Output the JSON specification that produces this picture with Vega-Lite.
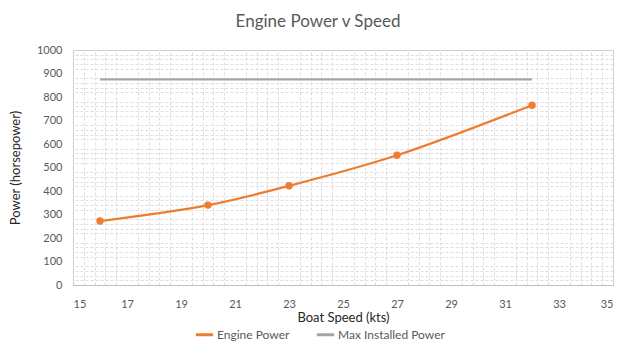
{
  "$schema": "https://vega.github.io/schema/vega-lite/v6.json",
  "width": 540,
  "height": 235,
  "autosize": {"type": "none"},
  "padding": {"left": 73, "top": 50, "right": 23, "bottom": 68},
  "background": "white",
  "title": {"text": "Engine Power v Speed", "fontSize": 17, "font": "Lato", "fontWeight": "normal", "color": "#595959", "anchor": "middle", "dx": -25, "offset": 13},
  "config": {
    "font": "Lato",
    "view": {"stroke": "#D0D0D0", "strokeWidth": 1},
    "axis": {"labelFont": "Lato", "titleFont": "Lato", "labelColor": "#595959", "titleColor": "#262626", "labelFontSize": 11, "titleFontWeight": "normal", "titleFontSize": 13}
  },
  "data": {"values": [
    {"speed": 16, "power": 272, "series": "Engine Power"},
    {"speed": 20, "power": 340, "series": "Engine Power"},
    {"speed": 23, "power": 422, "series": "Engine Power"},
    {"speed": 27, "power": 552, "series": "Engine Power"},
    {"speed": 32, "power": 765, "series": "Engine Power"},
    {"speed": 16, "power": 875, "series": "Max Installed Power"},
    {"speed": 32, "power": 875, "series": "Max Installed Power"}
  ]},
  "layer": [
    {
      "mark": {"type": "line", "interpolate": "catmull-rom", "strokeWidth": 2.2},
      "encoding": {
        "x": {"field": "speed", "type": "quantitative", "scale": {"domain": [15, 35], "nice": false, "zero": false},
          "axis": {"orient": "top", "values": [15.4,15.8,16.2,16.6,17.4,17.8,18.2,18.6,19.4,19.8,20.2,20.6,21.4,21.8,22.2,22.6,23.4,23.8,24.2,24.6,25.4,25.8,26.2,26.6,27.4,27.8,28.2,28.6,29.4,29.8,30.2,30.6,31.4,31.8,32.2,32.6,33.4,33.8,34.2,34.6], "labels": false, "ticks": false, "domain": false, "title": null, "grid": true, "gridColor": "#DEDEDE", "gridDash": [3, 2]}},
        "y": {"field": "power", "type": "quantitative", "scale": {"domain": [0, 1000], "nice": false},
          "axis": {"orient": "right", "values": [20,40,60,80,120,140,160,180,220,240,260,280,320,340,360,380,420,440,460,480,520,540,560,580,620,640,660,680,720,740,760,780,820,840,860,880,920,940,960,980], "labels": false, "ticks": false, "domain": false, "title": null, "grid": true, "gridColor": "#DEDEDE", "gridDash": [3, 2]}},
        "color": {"field": "series", "type": "nominal", "scale": {"domain": ["Engine Power", "Max Installed Power"], "range": ["#ED7D31", "#A5A5A5"]},
          "legend": {"title": null, "orient": "none", "direction": "horizontal", "legendX": 121, "legendY": 274, "symbolType": "stroke", "symbolStrokeWidth": 3, "symbolSize": 300, "labelFontSize": 12, "labelColor": "#595959", "columnPadding": 20, "labelOffset": 2}}
      }
    },
    {
      "transform": [{"filter": "datum.series == 'Engine Power'"}],
      "mark": {"type": "point", "filled": true, "size": 55, "opacity": 1, "color": "#ED7D31"},
      "encoding": {
        "x": {"field": "speed", "type": "quantitative",
          "axis": {"orient": "bottom", "values": [15,17,19,21,23,25,27,29,31,33,35], "title": "Boat Speed (kts)", "titlePadding": 2, "labelPadding": 13, "ticks": false, "domainColor": "#BFBFBF", "gridColor": "#C8C8C8", "labelFontSize": 11}},
        "y": {"field": "power", "type": "quantitative",
          "axis": {"orient": "left", "values": [0,100,200,300,400,500,600,700,800,900,1000], "format": "d", "title": "Power (horsepower)", "titlePadding": 14, "labelPadding": 11, "ticks": false, "domain": false, "gridColor": "#C8C8C8"}}
      }
    }
  ],
  "resolve": {"axis": {"x": "independent", "y": "independent"}}
}
